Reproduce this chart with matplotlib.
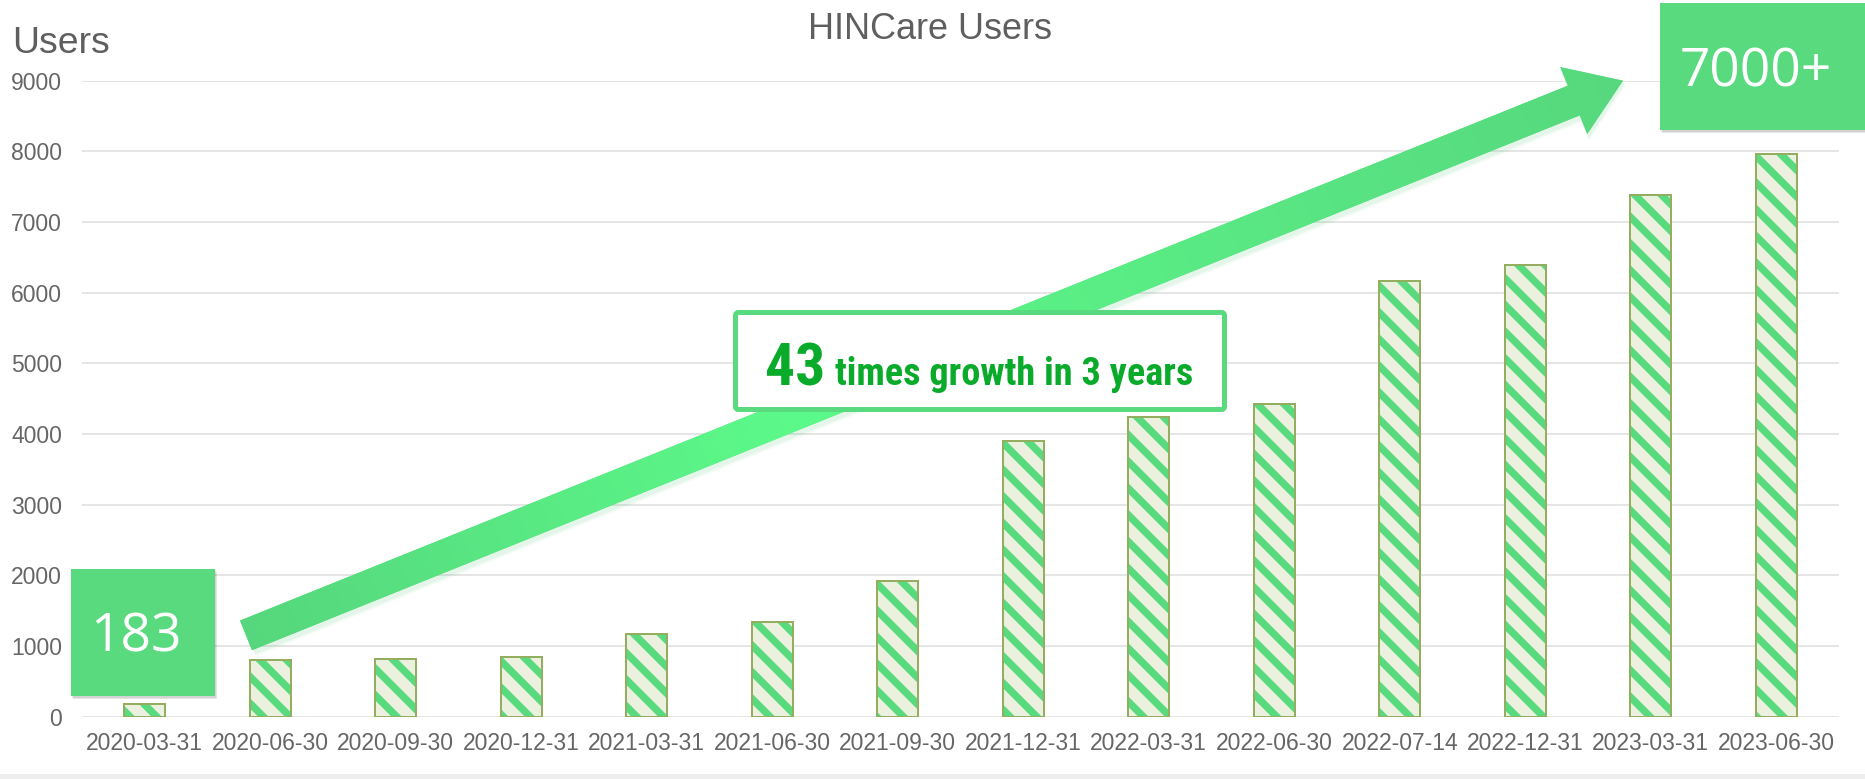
import numpy as np
import matplotlib
matplotlib.use("Agg")
import matplotlib.pyplot as plt
from matplotlib import font_manager
from matplotlib.patches import FancyArrow, Rectangle, FancyBboxPatch
from matplotlib.colors import to_rgb

# ---------------- data ----------------
dates = ["2020-03-31", "2020-06-30", "2020-09-30", "2020-12-31", "2021-03-31",
         "2021-06-30", "2021-09-30", "2021-12-31", "2022-03-31", "2022-06-30",
         "2022-07-14", "2022-12-31", "2023-03-31", "2023-06-30"]
users = [183, 804, 823, 843, 1177, 1343, 1914, 3904, 4241, 4420, 6159, 6398, 7380, 7966]
y_ticks = [0, 1000, 2000, 3000, 4000, 5000, 6000, 7000, 8000, 9000]
title = "HINCare Users"
y_label = "Users"
start_label = "183"
end_label = "7000+"
growth_num = "43"
growth_text = "times growth in 3 years"

# ---------------- setup ----------------
DPI = 160
W, H = 1865, 779
plt.rcParams['hatch.linewidth'] = 3.3
plt.rcParams['font.family'] = ['Liberation Sans', 'DejaVu Sans']

names = {f.name for f in font_manager.fontManager.ttflist}
narrow_fam = None
for cand in ['Liberation Sans Narrow', 'Arial Narrow', 'Roboto Condensed', 'Archivo Narrow',
             'PT Sans Narrow', 'Open Sans Condensed']:
    if cand in names:
        narrow_fam = cand
        break

fig = plt.figure(figsize=(W / DPI, H / DPI), dpi=DPI)
fig.patch.set_facecolor('white')

left_px, right_px, bot_px, top_px = 82, 1839, 716.7, 80.7
ax = fig.add_axes([left_px / W, 1 - bot_px / H, (right_px - left_px) / W, (bot_px - top_px) / H])

x = np.arange(len(dates))
ax.bar(x, users, width=0.33, color='#EBF1DE', edgecolor='#5ADA7F', hatch='\\\\', linewidth=0, zorder=2)
ax.bar(x, users, width=0.33, facecolor='none', edgecolor='#93AE5E', linewidth=0.9, zorder=3)

ax.set_xlim(-0.5, len(dates) - 0.5)
ax.set_ylim(0, 9000)
ax.set_yticks(y_ticks)
ax.set_xticks(x, dates)
ax.tick_params(axis='both', length=0, labelsize=10.3, labelcolor='#666666')
ax.tick_params(axis='y', pad=9)
ax.tick_params(axis='x', pad=7)
for s in ax.spines.values():
    s.set_visible(False)
ax.yaxis.grid(True, color='#DEDEDE', linewidth=0.7)
ax.set_axisbelow(True)

# ---------------- overlay in pixel coordinates ----------------
ov = fig.add_axes([0, 0, 1, 1], zorder=5)
ov.set_xlim(0, W)
ov.set_ylim(H, 0)
ov.axis('off')

ov.text(930, 39, title, ha='center', va='baseline', fontsize=16.2, color='#5f5f5f')
ov.text(12, 53, y_label, ha='left', va='baseline', fontsize=16.8, color='#5f5f5f')

ov.add_patch(Rectangle((0, 774), W, 6, color='#EEEEEE', lw=0))

tail = np.array([246.0, 635.4])
tip = np.array([1623.0, 80.7])
d = tip - tail
for off, a in [((3, 4), 0.06), ((2, 2.5), 0.08)]:
    sh = FancyArrow(tail[0] + off[0], tail[1] + off[1], d[0], d[1], width=36, head_width=76,
                    head_length=55, length_includes_head=True, color='#3cbf60', alpha=a, lw=0, zorder=2)
    ov.add_patch(sh)
arrow = FancyArrow(tail[0], tail[1], d[0], d[1], width=32, head_width=72, head_length=53,
                   length_includes_head=True, facecolor='#5AE884', edgecolor='none', lw=0, zorder=3)
ov.add_patch(arrow)
x0, x1 = 200, 1660
y0, y1 = 40, 680
gx = np.linspace(x0, x1, 600)
gy = np.linspace(y0, y1, 300)
GX, GY = np.meshgrid(gx, gy)
u = d / np.hypot(*d)
t = ((GX - tail[0]) * u[0] + (GY - tail[1]) * u[1]) / np.hypot(*d)
t = np.clip(t, 0, 1)
c0 = np.array(to_rgb('#56D77D'))
c1 = np.array(to_rgb('#5CFA8A'))
c2 = np.array(to_rgb('#57D87E'))
w1 = np.clip(t / 0.4, 0, 1)[..., None]
w2 = np.clip((t - 0.4) / 0.6, 0, 1)[..., None]
img = np.where(t[..., None] < 0.4, c0 + (c1 - c0) * w1, c1 + (c2 - c1) * w2)
im = ov.imshow(img, extent=(x0, x1, y1, y0), origin='upper', zorder=3.5, interpolation='bilinear', aspect='auto')
im.set_clip_path(arrow)
ov.set_xlim(0, W)
ov.set_ylim(H, 0)

box_green = '#5ADA7F'
for (bx, by, bw, bh) in [(71, 569, 144, 127), (1660, 3, 210, 127)]:
    ov.add_patch(Rectangle((bx + 2, by + 3), bw, bh, color='black', alpha=0.10, lw=0, zorder=4))
    ov.add_patch(Rectangle((bx + 1, by + 1.5), bw, bh, color='black', alpha=0.08, lw=0, zorder=4))
    ov.add_patch(Rectangle((bx, by), bw, bh, color=box_green, lw=0, zorder=5))

num_font = dict(family=['Open Sans', 'DejaVu Sans'], fontweight='normal', color='white', fontsize=24)
ov.text(90, 651.7, start_label, ha='left', va='baseline', zorder=6, **num_font)
ov.text(1680, 86.7, end_label, ha='left', va='baseline', zorder=6, **num_font)

gb = FancyBboxPatch((735.5, 312.5), 489, 97, boxstyle='round,pad=0,rounding_size=3',
                    facecolor='white', edgecolor=box_green, linewidth=2.25, zorder=6)
ov.add_patch(gb)
green_txt = '#0AAA2A'
fam = [narrow_fam, 'Liberation Sans'] if narrow_fam else ['Liberation Sans', 'DejaVu Sans']
t_big = ov.text(765, 385, growth_num, ha='left', va='baseline', fontsize=30, fontweight='bold',
                family=fam, color=green_txt, zorder=7)
t_small = ov.text(835, 385, growth_text, ha='left', va='baseline', fontsize=18, fontweight='bold',
                  family=fam, color=green_txt, zorder=7)
renderer = fig.canvas.get_renderer()
for txt, target in [(t_big, 60.0), (t_small, 358.0)]:
    wpx = txt.get_window_extent(renderer).width
    txt.set_fontsize(txt.get_fontsize() * target / wpx)

fig.savefig('out.png', dpi=DPI)
